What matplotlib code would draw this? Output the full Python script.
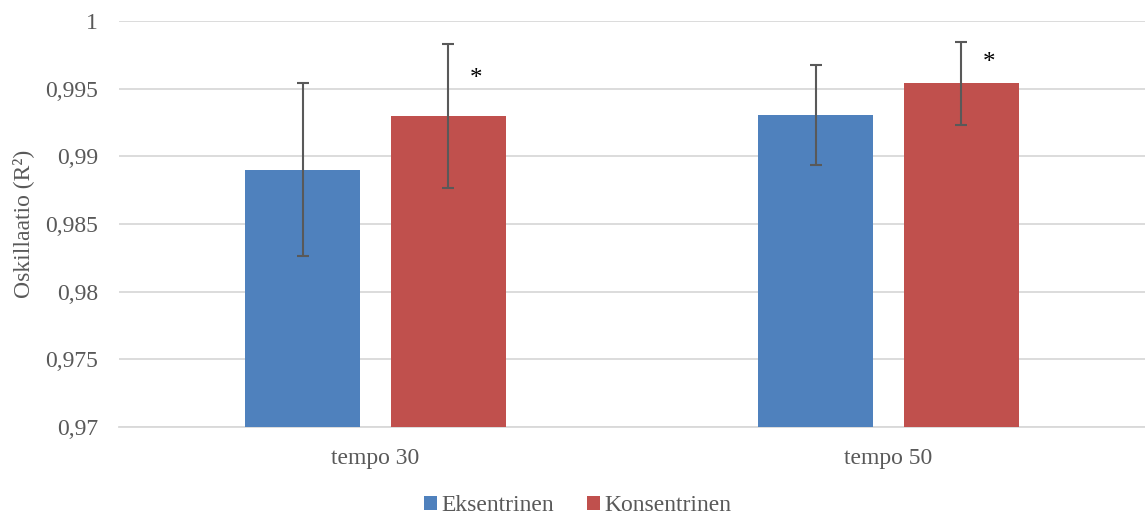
import numpy as np
import matplotlib.pyplot as plt
from matplotlib.ticker import FuncFormatter

plt.rcParams['font.family'] = ['Liberation Serif', 'DejaVu Serif']

categories = ["tempo 30", "tempo 50"]
eksentrinen = [0.989, 0.9931]
eksentrinen_err = [0.0064, 0.0037]
konsentrinen = [0.993, 0.9954]
konsentrinen_err = [0.0053, 0.0031]
star_y = [0.9957, 0.9969]

grey = "#595959"
x = np.arange(len(categories))
w = 0.224
off = 0.142

fig = plt.figure(figsize=(11.45, 5.18), dpi=100)
ax = fig.add_axes([0.104, 0.176, 0.896, 0.783])

ax.bar(x - off, eksentrinen, w, color="#4F81BD", label="Eksentrinen",
       yerr=eksentrinen_err, ecolor=grey, capsize=4.5,
       error_kw=dict(elinewidth=1.5, capthick=1.5), zorder=3)
ax.bar(x + off, konsentrinen, w, color="#C0504D", label="Konsentrinen",
       yerr=konsentrinen_err, ecolor=grey, capsize=4.5,
       error_kw=dict(elinewidth=1.5, capthick=1.5), zorder=3)

for i, sy in enumerate(star_y):
    ax.text(x[i] + off + 0.053, sy, "*", ha="center", va="center",
            fontsize=18, color="black")

ax.set_xlim(-0.5, 1.5)
ax.set_ylim(0.97, 1.0)
ax.set_yticks(np.arange(0.97, 1.0001, 0.005))
ax.yaxis.set_major_formatter(FuncFormatter(
    lambda v, p: "1" if abs(v - 1) < 1e-9 else f"{v:.3f}".rstrip("0").replace(".", ",")))
ax.set_xticks(x)
ax.set_xticklabels(categories)
ax.tick_params(axis="both", length=0, labelsize=17, colors=grey)
ax.tick_params(axis="x", pad=15)
ax.tick_params(axis="y", pad=15)
ax.grid(axis="y", color="#D9D9D9", linewidth=1.3, zorder=0)
for s in ["top", "right", "left"]:
    ax.spines[s].set_visible(False)
ax.spines["bottom"].set_color("#D9D9D9")
ax.spines["bottom"].set_linewidth(1.3)

ax.set_ylabel("Oskillaatio (R²)", fontsize=17, color=grey, labelpad=8)

ax.legend(loc="center", bbox_to_anchor=(0.447, -0.195), ncol=2, frameon=False,
          fontsize=17, labelcolor=grey, handlelength=0.55, handleheight=0.55,
          handletextpad=0.2, columnspacing=1.4)

fig.savefig("out.png", dpi=100)
